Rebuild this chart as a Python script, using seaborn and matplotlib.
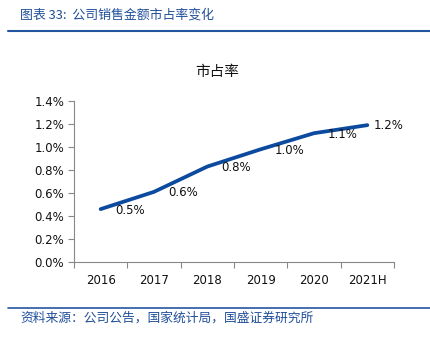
import matplotlib
matplotlib.use("Agg")
import matplotlib.pyplot as plt
import seaborn as sns
import pandas as pd
from matplotlib.ticker import FuncFormatter, FixedLocator
from matplotlib.lines import Line2D

years = ["2016", "2017", "2018", "2019", "2020", "2021H"]
share = [0.46, 0.61, 0.83, 0.98, 1.12, 1.19]  # percent
labels = ["0.5%", "0.6%", "0.8%", "1.0%", "1.1%", "1.2%"]

header = "图表 33:  公司销售金额市占率变化"
title = "市占率"
source = "资料来源：公司公告，国家统计局，国盛证券研究所"

sns.set_theme(style="white")
plt.rcParams['font.family'] = ['DejaVu Sans', 'Noto Sans CJK SC']

df = pd.DataFrame({"year": years, "share": share})

W, H = 431, 339
fig = plt.figure(figsize=(W / 100, H / 100), dpi=100)
ax = fig.add_axes([74 / W, 1 - 262 / H, (394 - 74) / W, (262 - 101) / H])

sns.lineplot(data=df, x="year", y="share", ax=ax, color="#0B4A9E",
             linewidth=2.7, sort=False)

ax.set_ylim(0, 1.4)
ax.set_xlim(-0.5, len(years) - 0.5)
ax.set_yticks([0, 0.2, 0.4, 0.6, 0.8, 1.0, 1.2, 1.4])
ax.yaxis.set_major_formatter(FuncFormatter(lambda v, p: f"{v:.1f}%"))
ax.set_xlabel("")
ax.set_ylabel("")

for s in ["top", "right"]:
    ax.spines[s].set_visible(False)
for s in ["left", "bottom"]:
    ax.spines[s].set_color("#888888")
    ax.spines[s].set_linewidth(0.8)

ax.tick_params(axis="y", which="major", length=4, width=0.8, color="#888888",
               labelsize=8.5, labelcolor="#111111", pad=3, left=True)
ax.tick_params(axis="x", which="major", length=0, labelsize=8.5,
               labelcolor="#111111", pad=9)
ax.xaxis.set_minor_locator(FixedLocator([i + 0.5 for i in range(-1, len(years))]))
ax.tick_params(axis="x", which="minor", length=4, width=0.8, color="#888888",
               bottom=True)

for i, (v, lab) in enumerate(zip(share, labels)):
    if i == len(share) - 1:
        ax.annotate(lab, (i, v), xytext=(6, 0), textcoords="offset pixels",
                    ha="left", va="center", fontsize=8.5, color="#111111")
    else:
        ax.annotate(lab, (i, v), xytext=(29, -1), textcoords="offset pixels",
                    ha="center", va="center", fontsize=8.5, color="#111111")

fig.text(217 / W, 1 - 72 / H, title, ha="center", va="center", fontsize=10.5,
         color="#111111", family=['Noto Sans CJK SC', 'DejaVu Sans'])

fig.text(20 / W, 1 - 15 / H, header, ha="left", va="center", fontsize=9.3,
         color="#1F4E99", style="italic", family=['Noto Sans CJK SC', 'DejaVu Sans'])
fig.add_artist(Line2D([8 / W, 430 / W], [1 - 31 / H, 1 - 31 / H],
                      transform=fig.transFigure, color="#2356A0", linewidth=1.5))
fig.add_artist(Line2D([8 / W, 430 / W], [1 - 308 / H, 1 - 308 / H],
                      transform=fig.transFigure, color="#2356A0", linewidth=1.2))
fig.text(20 / W, 1 - 318 / H, source, ha="left", va="center", fontsize=9.2,
         color="#1F4E99", style="italic", family=['Noto Sans CJK SC', 'DejaVu Sans'])

fig.savefig("out.png", dpi=100)
